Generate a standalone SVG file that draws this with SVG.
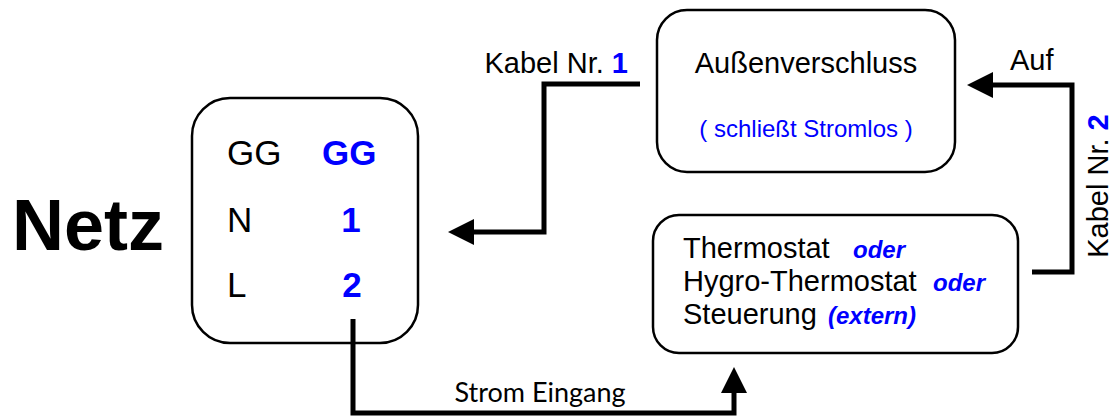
<svg xmlns="http://www.w3.org/2000/svg" width="1115" height="418" viewBox="0 0 1115 418">
<style>
.box{fill:#fff;stroke:#000;stroke-width:2.5}
.t{font-family:"Liberation Sans",Arial,sans-serif;fill:#000}
.b{fill:#0000ff}
.bi{fill:#0000ff;font-weight:bold;font-style:italic;font-size:24px}
.wire{fill:none;stroke:#000;stroke-width:5}
</style>
<defs>
<marker id="ah" markerUnits="userSpaceOnUse" viewBox="0 0 26 26" refX="0" refY="13" markerWidth="26" markerHeight="26" orient="auto">
<path d="M0,0 L26,13 L0,26 Z" fill="#000"/>
</marker>
</defs>
<rect width="1115" height="418" fill="#fff"/>
<g id="netz-label">
<text class="t" x="12" y="250" font-size="72" font-weight="bold">Netz</text>
</g>
<g id="netz">
<rect class="box" x="192" y="98" width="226" height="245" rx="38"/>
<text class="t" x="227" y="165" font-size="35">GG</text>
<text class="t b" x="322" y="165" font-size="35" font-weight="bold">GG</text>
<text class="t" x="227" y="232" font-size="35">N</text>
<text class="t b" x="351" y="232" font-size="35" font-weight="bold" text-anchor="middle">1</text>
<text class="t" x="227" y="297" font-size="35">L</text>
<text class="t b" x="352" y="297" font-size="35" font-weight="bold" text-anchor="middle">2</text>
</g>
<g id="aussenverschluss">
<rect class="box" x="657" y="10" width="298" height="162" rx="30"/>
<text class="t" x="806" y="73" font-size="29" text-anchor="middle">Außenverschluss</text>
<text class="t b" x="806" y="137" font-size="24" text-anchor="middle">( schließt Stromlos )</text>
</g>
<g id="steuerung">
<rect class="box" x="653" y="215" width="365" height="138" rx="26"/>
<text class="t" x="683" y="258" font-size="29">Thermostat</text>
<text class="t bi" x="853" y="258">oder</text>
<text class="t" x="683" y="291" font-size="29">Hygro-Thermostat</text>
<text class="t bi" x="933" y="291">oder</text>
<text class="t" x="683" y="324" font-size="29">Steuerung</text>
<text class="t bi" x="828" y="324">(extern)</text>
</g>
<g id="connectors">
<path class="wire" d="M640,84 H544 V232 H474" marker-end="url(#ah)"/>
<text class="t" x="628" y="73" font-size="29" text-anchor="end">Kabel Nr. <tspan class="b" font-weight="bold">1</tspan></text>
<path class="wire" d="M1032,272 H1072 V85 H993" marker-end="url(#ah)"/>
<text class="t" x="1010" y="70" font-size="29">Auf</text>
<text class="t" transform="translate(1108,186) rotate(-90)" font-size="29" text-anchor="middle">Kabel Nr. <tspan class="b" font-weight="bold">2</tspan></text>
<path class="wire" d="M353,319 V413 H734 V393" marker-end="url(#ah)"/>
<text x="540" y="402" font-family="Lato,'Open Sans',sans-serif" font-size="27" text-anchor="middle" fill="#000">Strom Eingang</text>
</g>
</svg>
